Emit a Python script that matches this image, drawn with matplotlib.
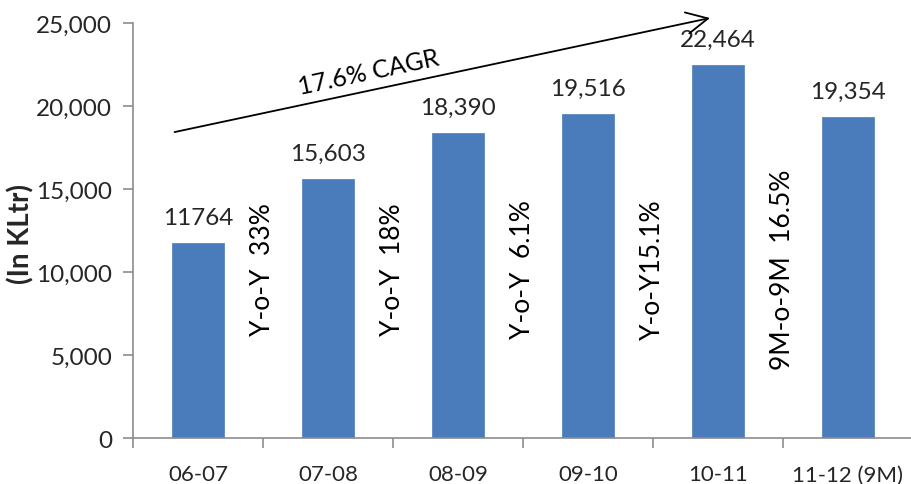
import matplotlib
matplotlib.use("Agg")
import matplotlib.pyplot as plt

plt.rcParams['font.family'] = ['Lato', 'DejaVu Sans']

categories = ["06-07", "07-08", "08-09", "09-10", "10-11", "11-12 (9M)"]
values = [11764, 15603, 18390, 19516, 22464, 19354]
value_labels = ["11764", "15,603", "18,390", "19,516", "22,464", "19,354"]
growth_labels = ["Y-o-Y  33%", "Y-o-Y  18%", "Y-o-Y  6.1%", "Y-o-Y15.1%", "9M-o-9M  16.5%"]
yticks = [0, 5000, 10000, 15000, 20000, 25000]
ytick_labels = ["0", "5,000", "10,000", "15,000", "20,000", "25,000"]
cagr_label = "17.6% CAGR"
ylabel = "(In KLtr)"

bar_color = "#4A7BBA"
axis_color = "#8C8C8C"
text_color = "#262626"

fig = plt.figure(figsize=(9.12, 4.85), dpi=100)
ax = fig.add_axes([0.1458, 0.0948, 0.855, 0.8557])

x = list(range(len(categories)))
ax.bar(x, values, width=0.4, color=bar_color, edgecolor="#5A88C0", linewidth=0.6, zorder=2)

ax.set_xlim(-0.5, len(categories) - 0.5)
ax.set_ylim(0, 25000)
ax.set_yticks(yticks)
ax.set_yticklabels(ytick_labels)
ax.set_xticks(x)
ax.set_xticklabels(categories)
# category boundary tick marks
ax.set_xticks([i - 0.5 for i in range(len(categories) + 1)], minor=True)
ax.tick_params(axis='x', which='major', length=0, pad=19, labelsize=16, colors=text_color)
ax.tick_params(axis='x', which='minor', length=7, width=1.2, color=axis_color, direction='out')
ax.tick_params(axis='y', length=7, width=1.2, color=axis_color, labelsize=17.5, pad=8, labelcolor=text_color)

for s in ['top', 'right']:
    ax.spines[s].set_visible(False)
for s in ['left', 'bottom']:
    ax.spines[s].set_color(axis_color)
    ax.spines[s].set_linewidth(1.2)

ax.set_ylabel(ylabel, fontsize=20, fontweight='bold', color=text_color)
ax.yaxis.set_label_coords(-0.126, 0.495)

for xi, v, lab in zip(x, values, value_labels):
    ax.annotate(lab, (xi, v), xytext=(0, 18.5), textcoords='offset points',
                ha='center', va='center', fontsize=17.5, color=text_color, annotation_clip=False)

for i, g in enumerate(growth_labels):
    ax.text(i + 0.5, 10200, g, rotation=90, ha='center', va='center', fontsize=19, color='black')

# CAGR arrow
ax.annotate("", xy=(3.94, 25300), xytext=(-0.18, 18430),
            arrowprops=dict(arrowstyle='->,head_length=0.7,head_width=0.35', lw=1.3,
                            color='black', mutation_scale=22, shrinkA=0, shrinkB=0),
            annotation_clip=False)
ax.text(1.315, 22050, cagr_label, rotation=12, ha='center', va='center',
        fontsize=18, color='black', rotation_mode='anchor')

fig.savefig("out.png", dpi=100)
